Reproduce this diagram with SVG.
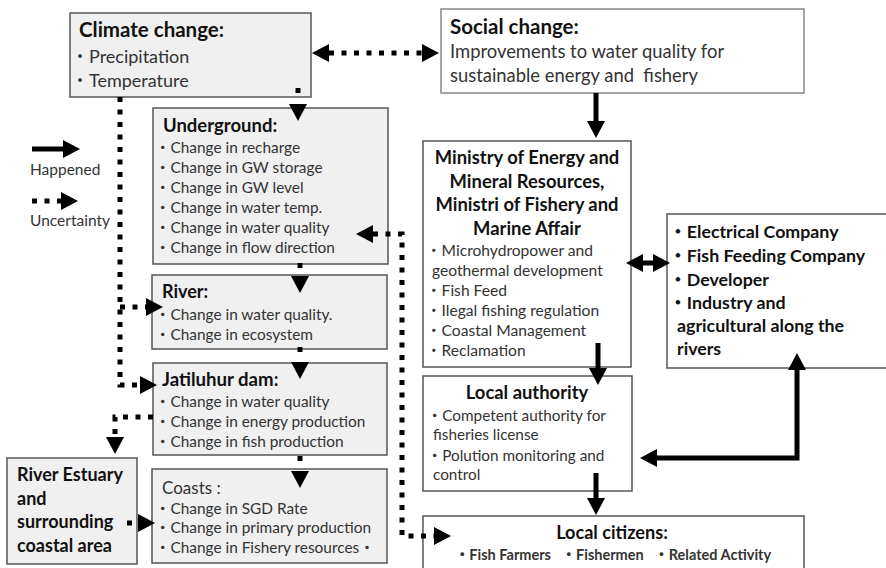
<svg xmlns="http://www.w3.org/2000/svg" width="886" height="568" viewBox="0 0 886 568">
<defs>
<style>
text{font-family:Lato,"Noto Sans CJK JP","DejaVu Sans",sans-serif;fill:#333}
.g{fill:#f0f0f0;stroke:#555;stroke-width:1.5}
.w{fill:#fff;stroke:#555;stroke-width:1.5}
.t{font-weight:bold;fill:#111}
.s14{font-size:15.4px}
.m{font-size:15.6px}
.b17{font-weight:bold;font-size:18.4px;fill:#111}
.sol{fill:none;stroke:#000;stroke-width:5}
.dot{fill:none;stroke:#000;stroke-width:5;stroke-dasharray:5 7.5}
</style>
<marker id="ah" markerUnits="userSpaceOnUse" markerWidth="18" markerHeight="20" viewBox="0 0 18 20" refX="0" refY="10" orient="auto-start-reverse"><path d="M0,1 L17,10 L0,19 z" fill="#000"/></marker>
</defs>

<g id="climate">
<rect class="g" x="70" y="13" width="241" height="84"/>
<text class="t" x="79" y="37" font-size="20.5">Climate change:</text>
<text x="71" y="63" font-size="18">・Precipitation</text>
<text x="71" y="87" font-size="18">・Temperature</text>
</g>

<g id="social">
<rect x="441" y="9" width="363" height="84" fill="#fff" stroke="#888" stroke-width="1.5"/>
<text class="t" x="450" y="34" font-size="20.5">Social change:</text>
<text x="450" y="58" font-size="18.4" fill="#222">Improvements to water quality for</text>
<text x="450" y="82" font-size="18.4" fill="#222" xml:space="preserve">sustainable energy and  fishery</text>
</g>

<g id="legend">
<text x="30" y="175" font-size="15.5" fill="#444">Happened</text>
<text x="30" y="226" font-size="15.5" fill="#444">Uncertainty</text>
</g>

<g id="underground">
<rect class="g" x="153" y="108" width="235" height="156"/>
<text class="t" x="163" y="132" font-size="18.5">Underground:</text>
<text class="s14" x="155" y="153">・Change in recharge</text>
<text class="s14" x="155" y="173">・Change in GW storage</text>
<text class="s14" x="155" y="193">・Change in GW level</text>
<text class="s14" x="155" y="213">・Change in water temp.</text>
<text class="s14" x="155" y="233">・Change in water quality</text>
<text class="s14" x="155" y="253">・Change in flow direction</text>
</g>

<g id="river">
<rect class="g" x="152" y="275" width="235" height="74"/>
<text class="t" x="162" y="298" font-size="18">River:</text>
<text class="s14" x="155" y="320">・Change in water quality.</text>
<text class="s14" x="155" y="340">・Change in ecosystem</text>
</g>

<g id="jatiluhur">
<rect class="g" x="153" y="363" width="234" height="92"/>
<text class="t" x="162" y="386" font-size="18.6">Jatiluhur dam:</text>
<text class="s14" x="155" y="407">・Change in water quality</text>
<text class="s14" x="155" y="427">・Change in energy production</text>
<text class="s14" x="155" y="447">・Change in fish production</text>
</g>

<g id="estuary">
<rect class="g" x="7" y="458" width="130" height="106"/>
<text class="t" x="17" y="481" font-size="18">River Estuary</text>
<text class="t" x="17" y="505" font-size="18">and</text>
<text class="t" x="17" y="528" font-size="18">surrounding</text>
<text class="t" x="17" y="552" font-size="18">coastal area</text>
</g>

<g id="coasts">
<rect class="g" x="152" y="469" width="235" height="94"/>
<text x="162" y="494" font-size="17" fill="#111">Coasts :</text>
<text class="s14" x="155" y="514">・Change in SGD Rate</text>
<text class="s14" x="155" y="533">・Change in primary production</text>
<text class="s14" x="155" y="553">・Change in Fishery resources・</text>
</g>

<g id="ministry">
<rect class="w" x="423" y="141" width="208" height="226"/>
<text class="b17" x="527" y="164" text-anchor="middle">Ministry of Energy and</text>
<text class="b17" x="527" y="188" text-anchor="middle">Mineral Resources,</text>
<text class="b17" x="527" y="211" text-anchor="middle">Ministri of Fishery and</text>
<text class="b17" x="527" y="235" text-anchor="middle">Marine Affair</text>
<text class="m" x="426" y="256">・Microhydropower and</text>
<text class="m" x="432" y="276">geothermal development</text>
<text class="m" x="426" y="296">・Fish Feed</text>
<text class="m" x="426" y="316">・Ilegal fishing regulation</text>
<text class="m" x="426" y="336">・Coastal Management</text>
<text class="m" x="426" y="356">・Reclamation</text>
</g>

<g id="companies">
<rect class="w" x="667" y="214" width="225" height="154"/>
<text class="t" x="669" y="238" font-size="17.8">・Electrical Company</text>
<text class="t" x="669" y="262" font-size="17.8">・Fish Feeding Company</text>
<text class="t" x="669" y="286" font-size="17.8">・Developer</text>
<text class="t" x="669" y="309" font-size="17.8">・Industry and</text>
<text class="t" x="677" y="332" font-size="17.8">agricultural along the</text>
<text class="t" x="677" y="355" font-size="17.8">rivers</text>
</g>

<g id="local-authority">
<rect class="w" x="423" y="376" width="209" height="115"/>
<text class="b17" x="527" y="399" text-anchor="middle">Local authority</text>
<text x="427" y="421" font-size="15.3">・Competent authority for</text>
<text x="433" y="440" font-size="15.3">fisheries license</text>
<text x="427" y="461" font-size="15.3">・Polution monitoring and</text>
<text x="433" y="480" font-size="15.3">control</text>
</g>

<g id="local-citizens">
<rect class="w" x="423" y="516" width="381" height="60"/>
<text class="t" x="612" y="539" font-size="18.1" text-anchor="middle">Local citizens:</text>
<text x="613" y="560" font-size="14.5" font-weight="bold" fill="#111" text-anchor="middle" xml:space="preserve">・Fish Farmers   ・Fishermen   ・Related Activity</text>
</g>

<g id="connectors">
<path class="sol" d="M32,149 H63" marker-end="url(#ah)"/>
<path class="dot" d="M32,201 H61" marker-end="url(#ah)"/>
<path class="dot" d="M329,53 H422" marker-start="url(#ah)" marker-end="url(#ah)"/>
<path class="dot" d="M298,88 V104" style="stroke-dasharray:5 20" marker-end="url(#ah)"/>
<path class="dot" d="M120,97 V385 H140" marker-end="url(#ah)"/>
<path class="dot" d="M120,307 H146" marker-end="url(#ah)"/>
<path class="dot" d="M153,417 H115 V437" marker-end="url(#ah)"/>
<path class="dot" d="M127,523 H138" style="stroke-dasharray:5 20" marker-end="url(#ah)"/>
<path class="dot" d="M300,263 V276" style="stroke-dasharray:5 20" marker-end="url(#ah)"/>
<path class="dot" d="M300,347 V362" style="stroke-dasharray:5 20" marker-end="url(#ah)"/>
<path class="dot" d="M300,456 V471" style="stroke-dasharray:5 20" marker-end="url(#ah)"/>
<path class="dot" d="M373,234 H402 V536 H434" marker-start="url(#ah)" marker-end="url(#ah)"/>
<path class="sol" d="M596,93 V121" marker-end="url(#ah)"/>
<path class="sol" d="M643,263 H653" marker-start="url(#ah)" marker-end="url(#ah)"/>
<path class="sol" d="M598,343 V368" marker-end="url(#ah)"/>
<path class="sol" d="M797,370 V458 H657" marker-start="url(#ah)" marker-end="url(#ah)"/>
<path class="sol" d="M596,473 V498" marker-end="url(#ah)"/>
</g>
</svg>
